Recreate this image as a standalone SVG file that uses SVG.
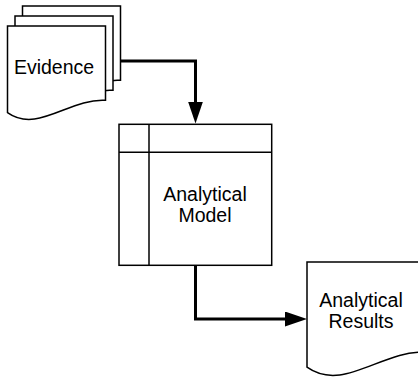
<svg xmlns="http://www.w3.org/2000/svg" width="418" height="377" viewBox="0 0 418 377">
  <style>
    .shape { fill: #ffffff; stroke: #000000; stroke-width: 1.5; stroke-linejoin: miter; }
    .line { fill: none; stroke: #000000; stroke-width: 3; }
    .label { font-family: "Liberation Sans", Arial, sans-serif; font-size: 19.5px; fill: #000000; text-anchor: middle; }
  </style>
  <defs>
    <!-- wavy-bottom document page, 98 wide -->
    <path id="doc" d="M0,0 H98 V74.3 C62,72 30,108 0,86.6 Z"/>
    <marker id="arrow" markerUnits="userSpaceOnUse" markerWidth="22" markerHeight="15" refX="12" refY="7.5" orient="auto" viewBox="0 0 22 15">
      <path d="M0,0 L22,7.5 L0,15 Z" fill="#000000"/>
    </marker>
  </defs>

  <g id="connectors">
    <path class="line" d="M120,61 H195.5 V113.5" marker-end="url(#arrow)"/>
    <path class="line" d="M195.5,265.5 V319 H297" marker-end="url(#arrow)"/>
  </g>

  <g id="evidence">
    <use href="#doc" class="shape" x="22.5" y="6"/>
    <use href="#doc" class="shape" x="15" y="16"/>
    <use href="#doc" class="shape" x="7.5" y="26"/>
    <text class="label" x="54" y="73.5">Evidence</text>
  </g>

  <g id="analytical-model">
    <rect class="shape" x="119" y="124.3" width="152.7" height="141"/>
    <line class="shape" x1="119" y1="152.3" x2="271.7" y2="152.3"/>
    <line class="shape" x1="149" y1="124.3" x2="149" y2="265.3"/>
    <text class="label" x="205" y="200.5">Analytical</text>
    <text class="label" x="205" y="221.5">Model</text>
  </g>

  <g id="analytical-results">
    <path class="shape" d="M307,262 H426 V352.2 C382.3,349.5 343.4,393.1 307,367.2 Z"/>
    <text class="label" x="361" y="306.5">Analytical</text>
    <text class="label" x="361" y="327.5">Results</text>
  </g>
</svg>
